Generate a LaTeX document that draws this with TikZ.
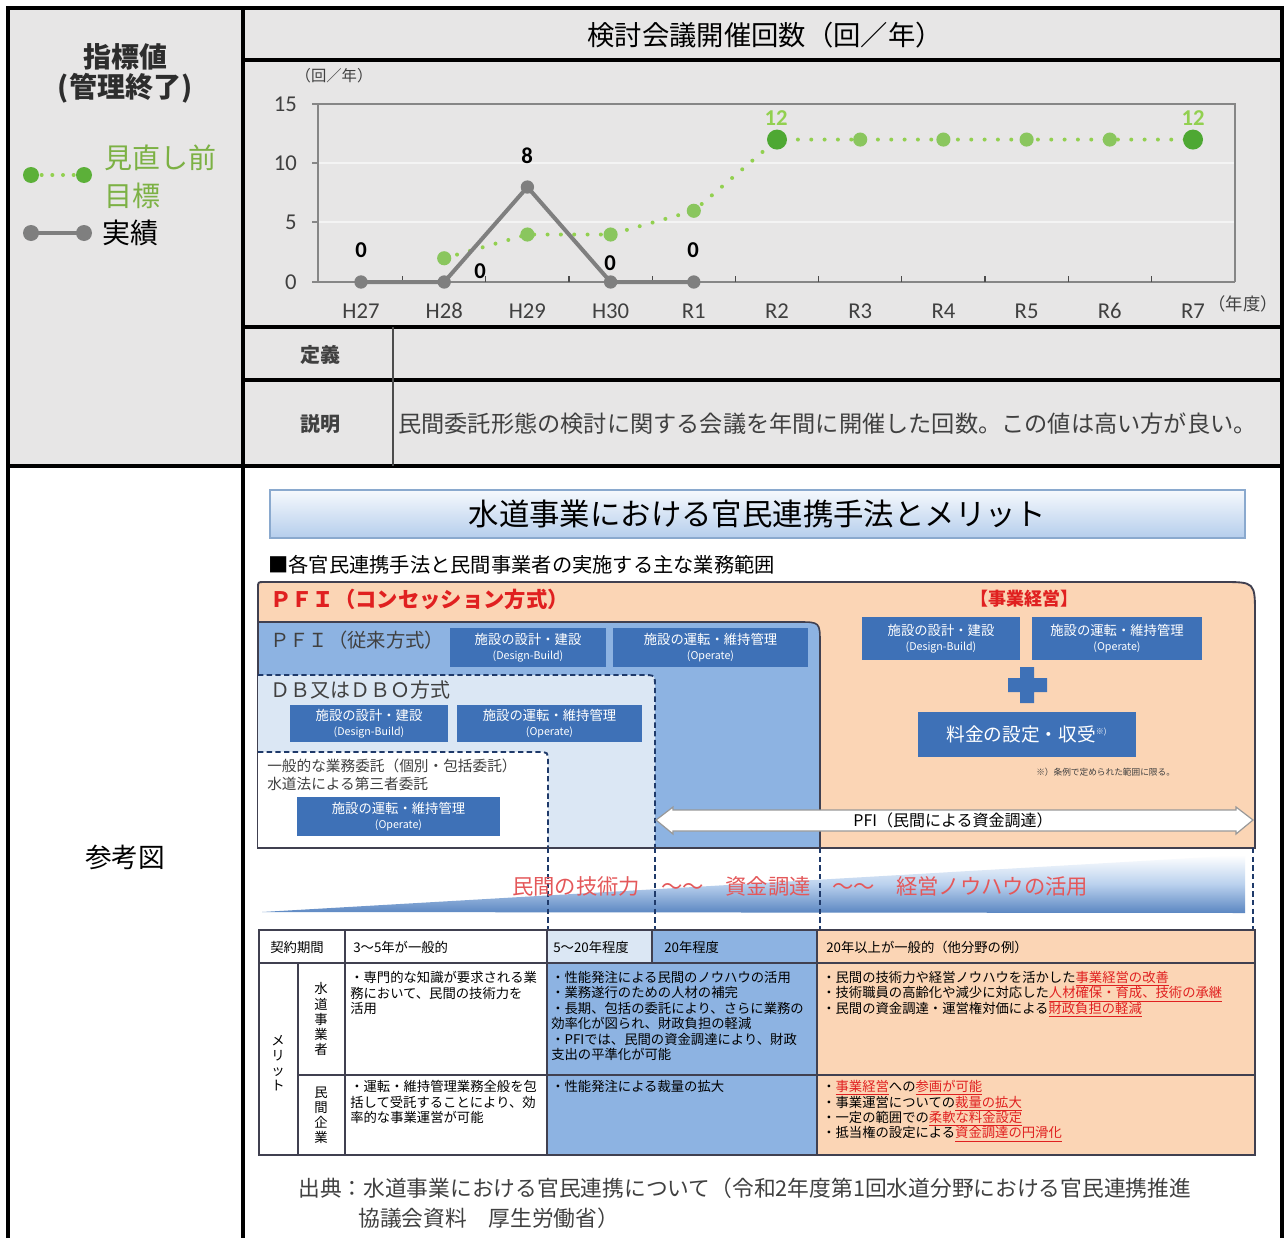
\documentclass[tikz,border=0pt]{standalone}
\usepackage{fontspec}
\setmainfont{Noto Sans CJK JP}
\newfontfamily\calf{Carlito}
\usetikzlibrary{calc}
\definecolor{bggray}{HTML}{E7E6E6}
\definecolor{gridc}{HTML}{F4F4F4}
\definecolor{axisg}{HTML}{868686}
\definecolor{lgreen}{HTML}{92D050}
\definecolor{mgreen}{HTML}{8AC65E}
\definecolor{dgreen}{HTML}{4EA833}
\definecolor{actg}{HTML}{7F7F7F}
\definecolor{peach}{HTML}{FBD5B5}
\definecolor{midblue}{HTML}{8DB3E2}
\definecolor{liteblue}{HTML}{DBE7F4}
\definecolor{boxblue}{HTML}{3E71B7}
\definecolor{framec}{HTML}{404050}
\definecolor{navy}{HTML}{1F3A6A}
\definecolor{redt}{HTML}{E02020}
\definecolor{wedgered}{HTML}{E4585A}
\definecolor{txtgray}{HTML}{404040}
\newcommand\fsz[2]{\fontsize{#1}{#2}\selectfont}
\newcommand\rd[1]{\textcolor{redt}{\underline{#1}}}
\tikzset{
  lbl/.style={inner sep=0pt},
  axl/.style={inner sep=0pt, font=\calf\fsz{17}{20}, text=txtgray},
  dlab/.style={inner sep=0pt, font=\calf\bfseries\fsz{17}{20}},
  wbox/.style={fill=boxblue, text=white, align=center, inner sep=0pt, font=\fsz{10}{12}},
  ttxt/.style={inner sep=0pt, align=left, font=\fsz{10}{11.6}, text=black},
  vtxt/.style={inner sep=0pt, align=center, font=\fsz{10}{11.3}, text=black},
  frameline/.style={line width=2.3pt, black},
  dsh/.style={navy, line width=1.4pt, dash pattern=on 4pt off 2.5pt},
}
\begin{document}
\begin{tikzpicture}[x=0.75pt,y=-0.75pt]
\useasboundingbox (0,0) rectangle (1284,1238);
\fill[white] (0,0) rectangle (1284,1238);
\fill[bggray] (8,8) rectangle (1282,466);

% ---------- left column ----------
\node[lbl, font=\bfseries\fsz{21}{24}, text=txtgray!70!black] (hyo) at (125,57) {指標値};
\node[lbl, font=\bfseries\fsz{21}{24}, text=txtgray!70!black] (kanri) at (125,88) {(管理終了)};
\coordinate (lg1) at (31,175); \coordinate (lg2) at (84,175);
\draw[lgreen, line width=3pt, dash pattern=on 0pt off 8pt, line cap=round] (lg1) -- (lg2);
\fill[dgreen!80!lgreen] (lg1) circle (6pt) (lg2) circle (6pt);
\node[lbl, anchor=west, font=\fsz{21}{24}, text=lgreen!85!black] (mina) at (104,158) {見直し前};
\node[lbl, anchor=west, font=\fsz{21}{24}, text=lgreen!85!black] (mok) at (104,196) {目標};
\coordinate (la1) at (31,233); \coordinate (la2) at (84,233);
\draw[actg, line width=3pt] (la1) -- (la2);
\fill[actg] (la1) circle (6pt) (la2) circle (6pt);
\node[lbl, anchor=west, font=\fsz{21}{24}] (jis) at (102,233) {実績};
\node[lbl, font=\fsz{20}{24}] (sanko) at (125,857) {参考図};

% ---------- header / definition rows ----------
\node[lbl, font=\fsz{20.5}{24}] (head) at (765,35) {検討会議開催回数（回／年）};
\node[lbl, font=\bfseries\fsz{15}{18}, text=txtgray] (teigi) at (320,355) {定義};
\node[lbl, font=\bfseries\fsz{15}{18}, text=txtgray] (setsu) at (320,424) {説明};
\node[lbl, anchor=west, font=\fsz{17.4}{20}, text=txtgray] (expl) at (398,424) {民間委託形態の検討に関する会議を年間に開催した回数。この値は高い方が良い。};

% ---------- chart ----------
\draw[gridc, line width=0.8pt] (318,163) -- (1235,163) (318,222) -- (1235,222);
\draw[axisg, line width=0.9pt] (318,104) -- (1235,104) -- (1235,282);
\draw[axisg, line width=1.5pt] (318,104) -- (318,282) -- (1235,282);
\foreach \yy in {104,163,222,282} \draw[axisg, line width=1pt] (312,\yy) -- (318,\yy);
\foreach \k in {1,...,10} \draw[black!70, line width=1pt] ({319.4+83.2*\k},282) -- ({319.4+83.2*\k},276);
\node[axl, anchor=east] (y15) at (297,104) {15};
\node[axl, anchor=east] (y10) at (297,163) {10};
\node[axl, anchor=east] (y5) at (297,222) {5};
\node[axl, anchor=east] (y0) at (297,282) {0};
\node[lbl, font=\fsz{11.5}{14}, text=txtgray] (unit) at (334,76) {（回／年）};
\node[lbl, font=\fsz{13}{15}, text=txtgray] (nendo) at (1243,304) {（年度）};
\foreach \i/\t in {0/H27,1/H28,2/H29,3/H30,4/R1,5/R2,6/R3,7/R4,8/R5,9/R6,10/R7}
  \node[axl] (xl\i) at ({361+83.2*\i},311) {\t};
% target series
\foreach \i/\v in {1/2,2/4,3/4,4/6,5/12,6/12,7/12,8/12,9/12,10/12}
  \coordinate (g\i) at ({361+83.2*\i},{282-11.87*\v});
\draw[lgreen, line width=3pt, dash pattern=on 0pt off 10pt, line cap=round]
  (g1) -- (g2) -- (g3) -- (g4) -- (g5) -- (g6) -- (g7) -- (g8) -- (g9) -- (g10);
\foreach \i in {1,2,3,4,6,7,8,9} \fill[mgreen] (g\i) circle (5.3pt);
\fill[dgreen] (g5) circle (7.5pt) (g10) circle (7.5pt);
% actual series
\foreach \i/\v in {0/0,1/0,2/8,3/0,4/0}
  \coordinate (a\i) at ({361+83.2*\i},{282-11.87*\v});
\draw[actg, line width=3pt, line join=round] (a0) -- (a1) -- (a2) -- (a3) -- (a4);
\foreach \i in {0,...,4} \fill[actg] (a\i) circle (5pt);
\node[dlab] (d0) at (361,250) {0};
\node[dlab] (d1) at (480,271) {0};
\node[dlab] (d2) at (527,156) {8};
\node[dlab] (d3) at (610,263) {0};
\node[dlab] (d4) at (693,250) {0};
\node[dlab, text=lgreen] (d5) at (776,118) {12};
\node[dlab, text=lgreen] (d10) at (1193,118) {12};

% ---------- frame lines ----------
\draw[frameline] (8,1238) -- (8,8) -- (1282,8) -- (1282,1238);
\draw[frameline] (243,8) -- (243,1238);
\draw[frameline] (243,60) -- (1282,60);
\draw[frameline] (243,327) -- (1282,327);
\draw[frameline] (243,380) -- (1282,380);
\draw[frameline] (8,466) -- (1282,466);
\draw[black!70, line width=0.8pt] (393,327) -- (393,466);

% ---------- reference figure ----------
\node[draw=midblue!80!gray, line width=0.8pt, top color=white!92!midblue, bottom color=midblue!65!white,
      minimum width=731.25pt, minimum height=36pt, inner sep=0pt, font=\fsz{22.8}{26}] (title) at (757.5,514)
      {水道事業における官民連携手法とメリット};
\node[lbl, anchor=west, font=\fsz{15.2}{18}] (sub) at (268,565) {■各官民連携手法と民間事業者の実施する主な業務範囲};

% concession (orange)
\draw[framec, line width=1.4pt, fill=peach] (258,848) -- (258,588) .. controls (258,582) .. (264,582) -- (1222,582)
   .. controls (1255,582) .. (1255,615) -- (1255,848) -- cycle;
\node[lbl, anchor=west, font=\bfseries\fsz{16}{19}, text=redt] (pfic) at (270,599) {ＰＦＩ（コンセッション方式）};
\node[lbl, font=\bfseries\fsz{13.5}{16}, text=redt] (jigyo) at (1024,599) {【事業経営】};

% PFI conventional (blue)
\draw[framec, line width=1.2pt, fill=midblue] (258,848) -- (258,622) -- (798,622) .. controls (820,622) .. (820,644) -- (820,848);
\node[lbl, anchor=west, font=\fsz{14.5}{17}, text=txtgray] (pfij) at (270,640) {ＰＦＩ（従来方式）};

% DB / DBO
\fill[liteblue] (258,848) -- (258,675) -- (643,675) .. controls (655,675) .. (655,687) -- (655,848) -- cycle;
\draw[dsh] (258,675) -- (643,675) .. controls (655,675) .. (655,687) -- (655,848);
\node[lbl, anchor=west, font=\fsz{15}{18}, text=txtgray] (dbo) at (270,690) {ＤＢ又はＤＢＯ方式};

% general outsourcing
\fill[white] (258,848) -- (258,752) -- (538,752) .. controls (548,752) .. (548,762) -- (548,848) -- cycle;
\draw[dsh] (258,752) -- (538,752) .. controls (548,752) .. (548,762) -- (548,848);
\node[lbl, anchor=west, font=\fsz{11}{13}, text=txtgray] (ippan) at (267,766) {一般的な業務委託（個別・包括委託）};
\node[lbl, anchor=west, font=\fsz{11}{13}, text=txtgray] (daisan) at (267,784) {水道法による第三者委託};

% dark boxes
\node[wbox, minimum width=117pt, minimum height=29.25pt] (b1) at (528,647.5) {施設の設計・建設\\[-1pt]{\fsz{8}{9}(Design-Build)}};
\node[wbox, minimum width=146.25pt, minimum height=29.25pt] (b2) at (710.5,647.5) {施設の運転・維持管理\\[-1pt]{\fsz{8}{9}(Operate)}};
\node[wbox, minimum width=118.5pt, minimum height=27.75pt] (b3) at (369,723.5) {施設の設計・建設\\[-1pt]{\fsz{8}{9}(Design-Build)}};
\node[wbox, minimum width=138.75pt, minimum height=27.75pt] (b4) at (549.5,723.5) {施設の運転・維持管理\\[-1pt]{\fsz{8}{9}(Operate)}};
\node[wbox, minimum width=152.25pt, minimum height=29.25pt] (b5) at (398.5,816.5) {施設の運転・維持管理\\[-1pt]{\fsz{8}{9}(Operate)}};
\node[wbox, minimum width=118.5pt, minimum height=32.25pt] (b6) at (941,638.5) {施設の設計・建設\\[-1pt]{\fsz{8}{9}(Design-Build)}};
\node[wbox, minimum width=127.5pt, minimum height=32.25pt] (b7) at (1117,638.5) {施設の運転・維持管理\\[-1pt]{\fsz{8}{9}(Operate)}};
\node[wbox, minimum width=163.5pt, minimum height=33.75pt, font=\fsz{14}{16}] (b8) at (1027,734.5) {料金の設定・収受\textsuperscript{\fsz{6}{7}※)}};
\fill[boxblue] (1008,678) rectangle (1047,692) (1020,667) rectangle (1034,703);
\node[lbl, anchor=west, font=\fsz{6.5}{8}, text=txtgray] (note) at (1036,772) {※）条例で定められた範囲に限る。};

% PFI financing arrow
\draw[gray!80, line width=0.9pt, fill=white] (656,820) -- (673,807) -- (673,810) -- (1236,810) -- (1236,807) -- (1253,820)
   -- (1236,834) -- (1236,831) -- (673,831) -- (673,834) -- cycle;
\node[lbl, font=\fsz{12}{14}] (pfis) at (953,820) {PFI（民間による資金調達）};
\draw[framec, line width=1.6pt] (258,848) -- (1255,848);

% wedge
\shade[top color=white, bottom color=boxblue!85!white, middle color=midblue!60!white] (262,912) -- (1245,855) -- (1245,913) -- cycle;
\draw[dsh, line width=1.1pt] (548,848) -- (548,930) (655,848) -- (655,930) (820,848) -- (820,930) (1253,848) -- (1253,930);
\node[lbl, font=\fsz{16}{19}, text=wedgered] (wedge) at (800,886) {民間の技術力　～～　資金調達　～～　経営ノウハウの活用};

% ---------- table ----------
\fill[white] (259,930) rectangle (547,963);
\fill[liteblue] (547,930) rectangle (652,963);
\fill[midblue] (652,930) rectangle (817,963);
\fill[peach] (817,930) rectangle (1255,963);
\fill[white] (259,963) rectangle (547,1155);
\fill[midblue] (547,963) rectangle (817,1155);
\fill[peach] (817,963) rectangle (1255,1155);
\draw[framec, line width=1.2pt] (259,930) rectangle (1255,1155);
\draw[framec, line width=1.2pt] (259,963) -- (1255,963) (298,1075) -- (1255,1075);
\draw[framec, line width=1pt] (298,963) -- (298,1155) (345,930) -- (345,1155) (547,930) -- (547,1155) (652,930) -- (652,963) (817,930) -- (817,1155);

\node[ttxt] (k0) at (297,947) {契約期間};
\node[ttxt, anchor=west] (k1) at (353,947) {3～5年が一般的};
\node[ttxt, anchor=west] (k2) at (553,947) {5～20年程度};
\node[ttxt, anchor=west] (k3) at (664,947) {20年程度};
\node[ttxt, anchor=west] (k4) at (826,947) {20年以上が一般的（他分野の例）};
\node[vtxt] (vm) at (278,1063) {メ\\リ\\ッ\\ト};
\node[vtxt] (vs) at (321,1019) {水\\道\\事\\業\\者};
\node[vtxt] (vk) at (321,1115) {民\\間\\企\\業};
\node[ttxt, anchor=north west] (c11) at (350,971) {・専門的な知識が要求される業\\務において、民間の技術力を\\活用};
\node[ttxt, anchor=north west] (c12) at (551,971) {・性能発注による民間のノウハウの活用\\・業務遂行のための人材の補完\\・長期、包括の委託により、さらに業務の\\効率化が図られ、財政負担の軽減\\・PFIでは、民間の資金調達により、財政\\支出の平準化が可能};
\node[ttxt, anchor=north west] (c13) at (822,971) {・民間の技術力や経営ノウハウを活かした\rd{事業経営の改善}\\・技術職員の高齢化や減少に対応した\rd{人材確保・育成、技術の承継}\\・民間の資金調達・運営権対価による\rd{財政負担の軽減}};
\node[ttxt, anchor=north west] (c21) at (350,1080) {・運転・維持管理業務全般を包\\括して受託することにより、効\\率的な事業運営が可能};
\node[ttxt, anchor=north west] (c22) at (551,1080) {・性能発注による裁量の拡大};
\node[ttxt, anchor=north west] (c23) at (822,1080) {・\rd{事業経営}への\rd{参画が可能}\\・事業運営についての\rd{裁量の拡大}\\・一定の範囲での\rd{柔軟な料金設定}\\・抵当権の設定による\rd{資金調達の円滑化}};

% source
\node[lbl, anchor=west, font=\fsz{16.3}{19}, text=txtgray] (src1) at (298,1188) {出典：水道事業における官民連携について（令和2年度第1回水道分野における官民連携推進};
\node[lbl, anchor=west, font=\fsz{16.3}{19}, text=txtgray] (src2) at (358,1218) {協議会資料　厚生労働省）};
\end{tikzpicture}
\end{document}
